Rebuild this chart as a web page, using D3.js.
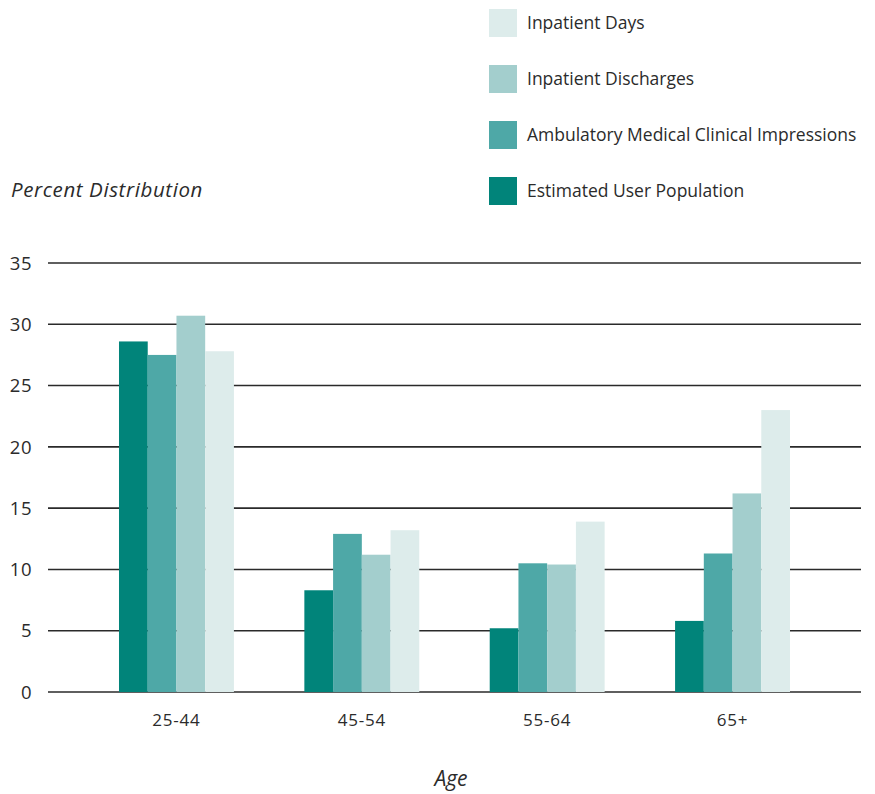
<!DOCTYPE html>
<html>
<head>
<meta charset="utf-8">
<script src="https://cdn.jsdelivr.net/npm/d3@7"></script>
<style>
  html, body { margin: 0; padding: 0; background: #fff; }
  svg { display: block; font-family: "Open Sans", sans-serif; }
</style>
</head>
<body>
<svg id="chart" width="875" height="794"></svg>
<script>
// ---- Data ----
const categories = ["25-44", "45-54", "55-64", "65+"];
const seriesNames = ["Estimated User Population", "Ambulatory Medical Clinical Impressions", "Inpatient Discharges", "Inpatient Days"];
const estimatedUserPopulation = [28.6, 8.3, 5.2, 5.8];
const ambulatoryImpressions = [27.5, 12.9, 10.5, 11.3];
const inpatientDischarges = [30.7, 11.2, 10.4, 16.2];
const inpatientDays = [27.8, 13.2, 13.9, 23.0];
const yTicks = [0, 5, 10, 15, 20, 25, 30, 35];
const legendOrder = ["Inpatient Days", "Inpatient Discharges", "Ambulatory Medical Clinical Impressions", "Estimated User Population"];
const colors = ["#01847A", "#4EA8A7", "#A3CECD", "#DDECEB"];

const seriesValues = [estimatedUserPopulation, ambulatoryImpressions, inpatientDischarges, inpatientDays];
const rows = categories.map((c, i) => ({ cat: c, vals: seriesNames.map((s, j) => ({ name: s, value: seriesValues[j][i] })) }));

const svg = d3.select("#chart");
const textColor = "#2b2b2b";

const x0 = d3.scaleBand().domain(categories).range([48, 861]).paddingInner(0.38).paddingOuter(0.383);
const x1 = d3.scaleBand().domain(seriesNames).range([0, x0.bandwidth()]).padding(0);
const y = d3.scaleLinear().domain([0, 35]).range([692, 263]);
const color = d3.scaleOrdinal().domain(seriesNames).range(colors);

// Gridlines
svg.append("g").selectAll("line").data(yTicks).join("line")
  .attr("x1", 48).attr("x2", 861)
  .attr("y1", d => y(d)).attr("y2", d => y(d))
  .attr("stroke", "#2a2a2a").attr("stroke-width", 1.6);

// Y tick labels
svg.append("g").selectAll("text").data(yTicks).join("text")
  .attr("x", 32).attr("y", d => y(d)).attr("dy", "0.36em")
  .attr("text-anchor", "end").attr("font-size", 18.5).attr("letter-spacing", 0.5).attr("fill", textColor)
  .text(d => d);

// Bars
svg.append("g").selectAll("g").data(rows).join("g")
  .attr("transform", d => `translate(${x0(d.cat)},0)`)
  .selectAll("rect").data(d => d.vals).join("rect")
  .attr("x", d => x1(d.name)).attr("width", x1.bandwidth())
  .attr("y", d => y(d.value)).attr("height", d => y(0) - y(d.value))
  .attr("fill", d => color(d.name));

// X axis labels
svg.append("g").selectAll("text").data(categories).join("text")
  .attr("x", d => x0(d) + x0.bandwidth() / 2).attr("y", 726)
  .attr("text-anchor", "middle").attr("font-size", 17).attr("letter-spacing", 0.8).attr("fill", textColor)
  .text(d => d);

// Axis titles
svg.append("text").attr("x", 451).attr("y", 786).attr("text-anchor", "middle")
  .attr("font-size", 21).attr("font-style", "italic").attr("fill", textColor).text("Age");
svg.append("text").attr("x", 11).attr("y", 197)
  .attr("font-size", 20.5).attr("font-style", "italic").attr("letter-spacing", 0.6).attr("fill", textColor).text("Percent Distribution");

// Legend
const lg = svg.append("g").selectAll("g").data(legendOrder).join("g")
  .attr("transform", (d, i) => `translate(489,${9 + i * 56})`);
lg.append("rect").attr("width", 28).attr("height", 28).attr("fill", d => color(d));
lg.append("text").attr("x", 38).attr("y", 14).attr("dy", "0.36em")
  .attr("font-size", 17.5).attr("fill", textColor).text(d => d);
</script>
</body>
</html>
